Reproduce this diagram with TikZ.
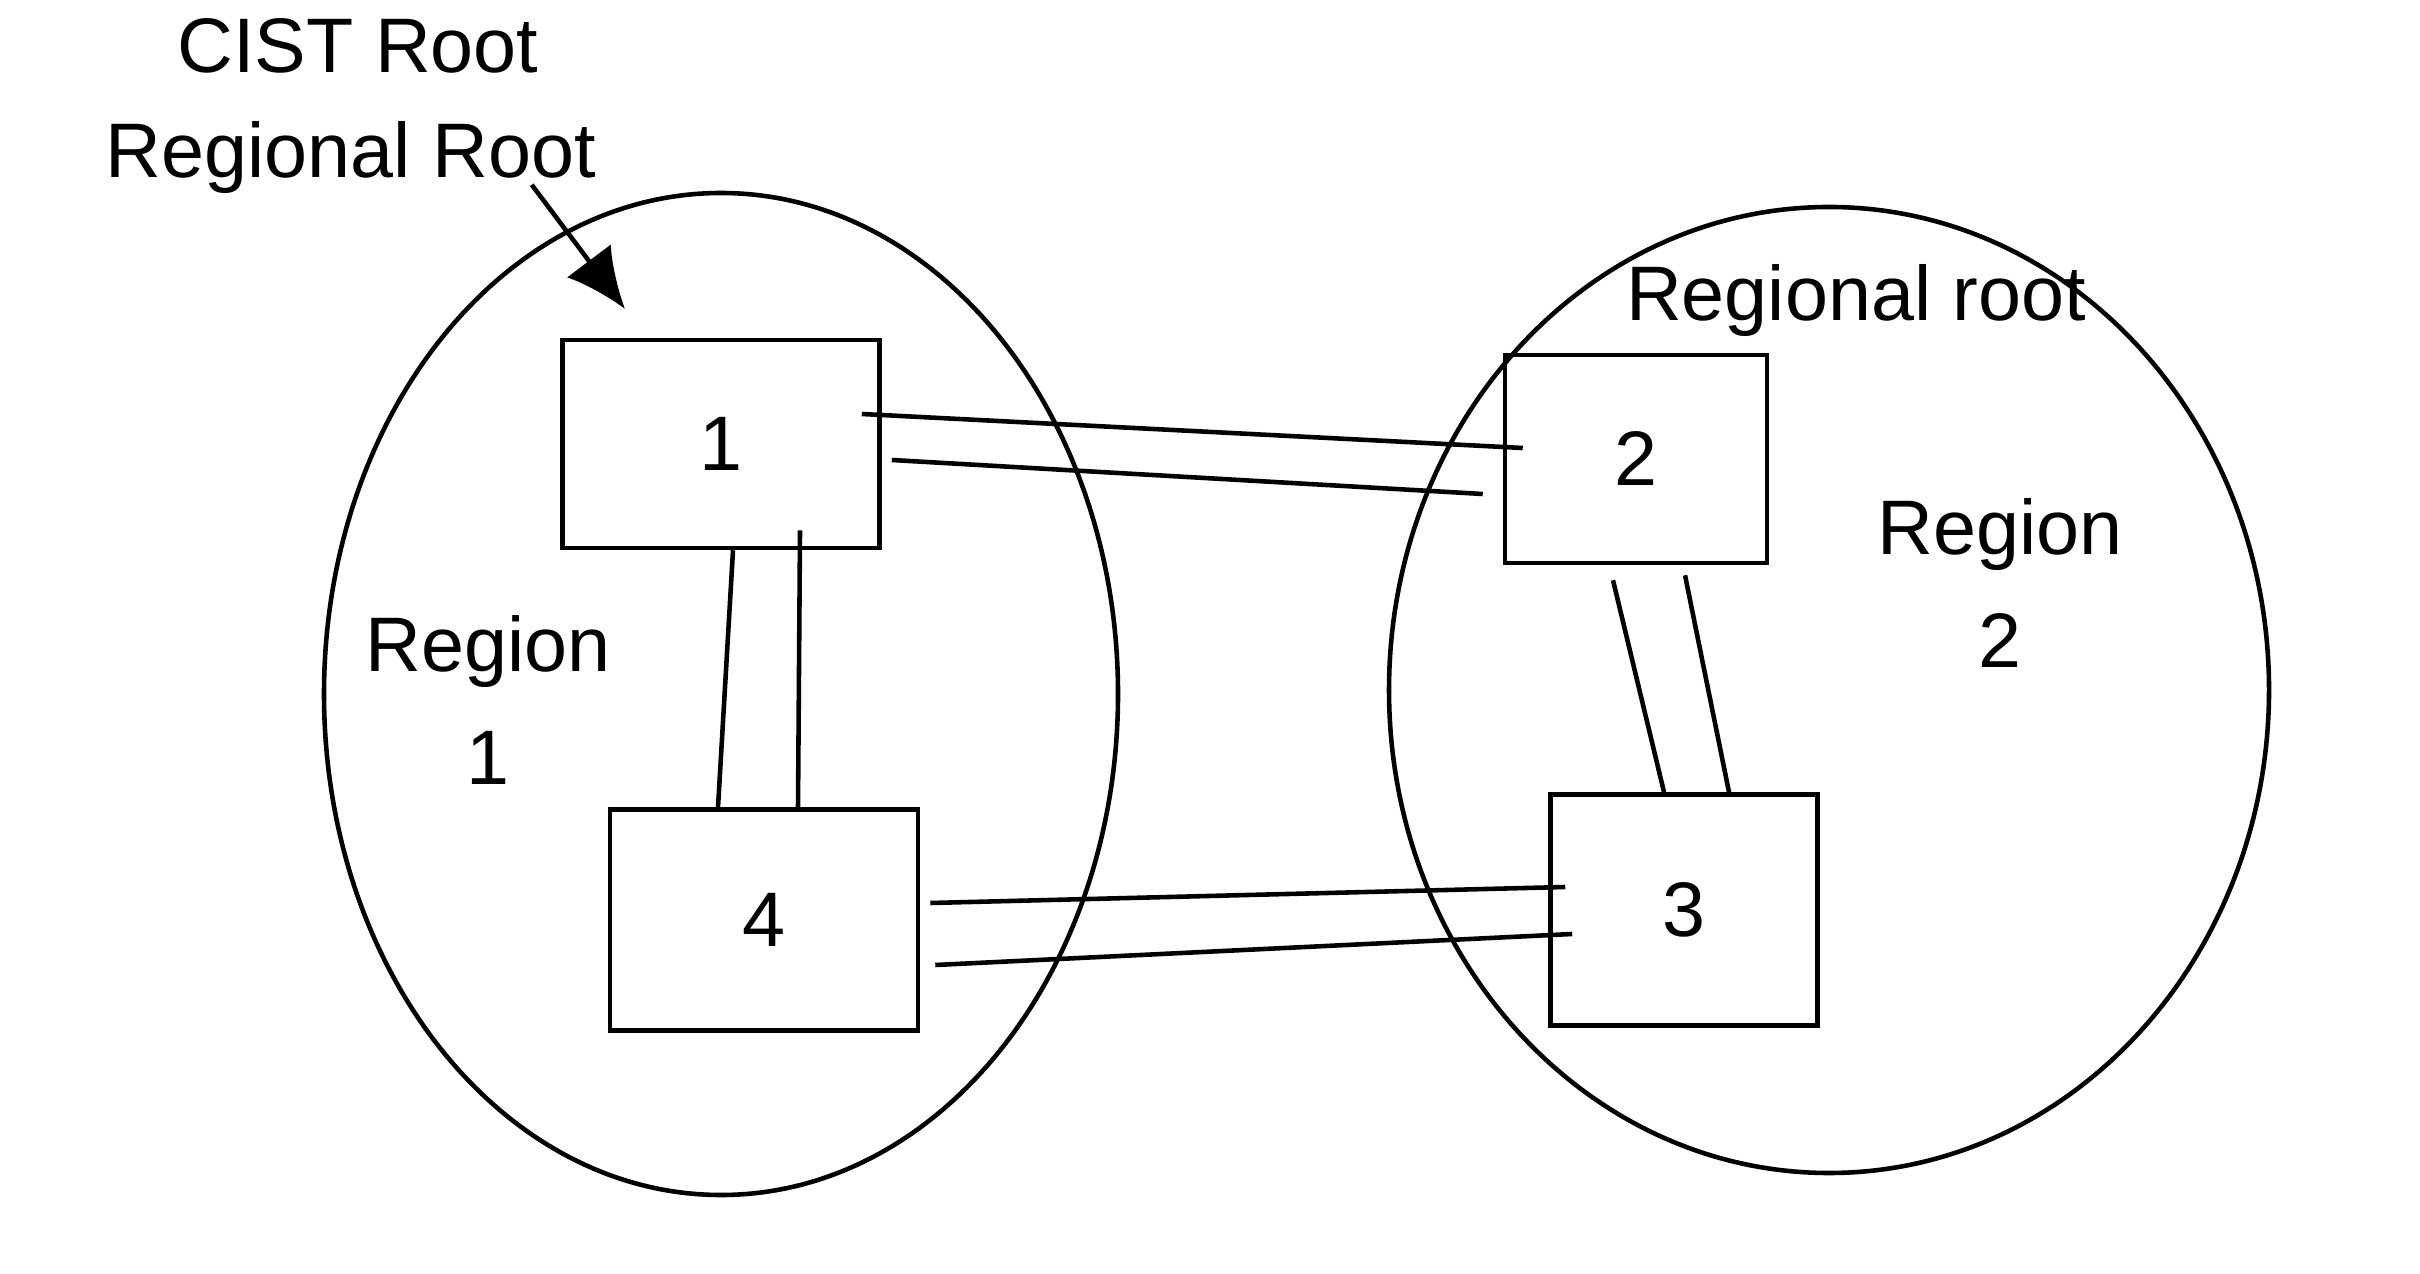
\documentclass[tikz,border=0pt]{standalone}
\usepackage{fontspec}
\setmainfont{Liberation Sans}
\usetikzlibrary{positioning, arrows.meta, shapes.geometric, calc}

\begin{document}
\begin{tikzpicture}[
                >=Latex,
                line width=1.3pt,
                region/.style={draw, ellipse, inner sep=0pt},
                bridge/.style={draw, rectangle, minimum width=2.9cm, minimum height=2.15cm, font=\fontsize{22}{26}\selectfont},
                label/.style={font=\fontsize{22}{32}\selectfont, align=center, inner sep=1pt},
                link/.style={line width=1.3pt}
            ]
            \useasboundingbox (0,0) rectangle (24.2,12.73);
            % Regions
            \node[region, minimum width=7.94cm, minimum height=10.02cm] (reg1) at (7.21, 5.79) {};
            \node[region, minimum width=8.8cm, minimum height=9.66cm] (reg2) at (18.29, 5.83) {};

            % Bridges
            \node[bridge, minimum width=3.17cm, minimum height=2.08cm] (b1) at (7.21, 8.29) {1};
            \node[bridge, minimum width=2.62cm, minimum height=2.08cm] (b2) at (16.36, 8.14) {2};
            \node[bridge, minimum width=2.67cm, minimum height=2.31cm] (b3) at (16.84, 3.63) {3};
            \node[bridge, minimum width=3.08cm, minimum height=2.21cm] (b4) at (7.64, 3.53) {4};

            % Labels
            \node[label] (cist) at (3.58, 12.27) {CIST Root};
            \node[label] (rroot1) at (3.51, 11.15) {Regional Root};
            \node[label] (rroot2) at (18.56, 9.72) {Regional root};
            \node[label] (reg1lbl) at (4.88, 5.73) {Region\\1};
            \node[label] (reg2lbl) at (20.0, 6.9) {Region\\2};
            \coordinate (blob) at (6.25, 9.64);

            % Edges
            \draw[-{Latex[length=0.6cm, width=0.55cm]}] ($(rroot1.south east)+(-0.7,0.15)$) -- (blob);
            \draw[link] ($(b1.east)+(-0.2,0.30)$) -- ($(b2.west)+(0.2,0.11)$);
            \draw[link] ($(b1.east)+(0.1,-0.16)$) -- ($(b2.west)+(-0.2,-0.35)$);
            \draw[link] ($(b1.south)+(0.12,0)$) -- ($(b4.north)+(-0.46,0)$);
            \draw[link] ($(b1.south)+(0.79,0.2)$) -- ($(b4.north)+(0.34,0)$);
            \draw[link] ($(b2.south)+(-0.23,-0.15)$) -- ($(b3.north)+(-0.20,0)$);
            \draw[link] ($(b2.south)+(0.49,-0.1)$) -- ($(b3.north)+(0.45,0)$);
            \draw[link] ($(b4.east)+(0.1,0.17)$) -- ($(b3.west)+(0.17,0.23)$);
            \draw[link] ($(b4.east)+(0.15,-0.45)$) -- ($(b3.west)+(0.24,-0.24)$);
            \end{tikzpicture}
\end{document}
